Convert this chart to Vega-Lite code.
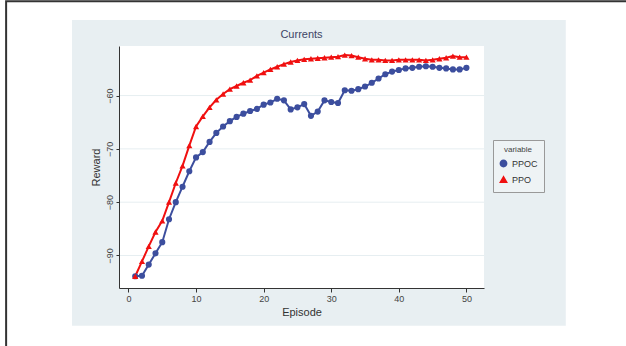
{
  "$schema": "https://vega.github.io/schema/vega-lite/v6.json",
  "width": 365,
  "height": 242,
  "autosize": {"type": "none"},
  "padding": {"left": 119, "top": 46, "right": 142, "bottom": 58},
  "background": "#ffffff",
  "config": {
    "view": {"stroke": null},
    "font": "Liberation Sans"
  },
  "title": {"text": "Currents", "fontSize": 11, "fontWeight": "normal", "color": "#3d4466", "offset": -39.5},
  "datasets": {
    "grid": [{"reward": -60}, {"reward": -70}, {"reward": -80}, {"reward": -90}],
    "rewards": [
      {"episode": 1, "variable": "PPOC", "reward": -93.9},
      {"episode": 2, "variable": "PPOC", "reward": -93.8},
      {"episode": 3, "variable": "PPOC", "reward": -91.7},
      {"episode": 4, "variable": "PPOC", "reward": -89.6},
      {"episode": 5, "variable": "PPOC", "reward": -87.5},
      {"episode": 6, "variable": "PPOC", "reward": -83.2},
      {"episode": 7, "variable": "PPOC", "reward": -80.0},
      {"episode": 8, "variable": "PPOC", "reward": -77.1},
      {"episode": 9, "variable": "PPOC", "reward": -74.2},
      {"episode": 10, "variable": "PPOC", "reward": -71.6},
      {"episode": 11, "variable": "PPOC", "reward": -70.6},
      {"episode": 12, "variable": "PPOC", "reward": -68.7},
      {"episode": 13, "variable": "PPOC", "reward": -67.0},
      {"episode": 14, "variable": "PPOC", "reward": -65.8},
      {"episode": 15, "variable": "PPOC", "reward": -64.8},
      {"episode": 16, "variable": "PPOC", "reward": -64.0},
      {"episode": 17, "variable": "PPOC", "reward": -63.4},
      {"episode": 18, "variable": "PPOC", "reward": -62.9},
      {"episode": 19, "variable": "PPOC", "reward": -62.5},
      {"episode": 20, "variable": "PPOC", "reward": -61.7},
      {"episode": 21, "variable": "PPOC", "reward": -61.3},
      {"episode": 22, "variable": "PPOC", "reward": -60.6},
      {"episode": 23, "variable": "PPOC", "reward": -60.9},
      {"episode": 24, "variable": "PPOC", "reward": -62.6},
      {"episode": 25, "variable": "PPOC", "reward": -62.2},
      {"episode": 26, "variable": "PPOC", "reward": -61.6},
      {"episode": 27, "variable": "PPOC", "reward": -63.8},
      {"episode": 28, "variable": "PPOC", "reward": -63.0},
      {"episode": 29, "variable": "PPOC", "reward": -60.9},
      {"episode": 30, "variable": "PPOC", "reward": -61.2},
      {"episode": 31, "variable": "PPOC", "reward": -61.4},
      {"episode": 32, "variable": "PPOC", "reward": -59.0},
      {"episode": 33, "variable": "PPOC", "reward": -59.1},
      {"episode": 34, "variable": "PPOC", "reward": -58.8},
      {"episode": 35, "variable": "PPOC", "reward": -58.3},
      {"episode": 36, "variable": "PPOC", "reward": -57.6},
      {"episode": 37, "variable": "PPOC", "reward": -56.8},
      {"episode": 38, "variable": "PPOC", "reward": -56.0},
      {"episode": 39, "variable": "PPOC", "reward": -55.5},
      {"episode": 40, "variable": "PPOC", "reward": -55.2},
      {"episode": 41, "variable": "PPOC", "reward": -54.9},
      {"episode": 42, "variable": "PPOC", "reward": -54.8},
      {"episode": 43, "variable": "PPOC", "reward": -54.6},
      {"episode": 44, "variable": "PPOC", "reward": -54.5},
      {"episode": 45, "variable": "PPOC", "reward": -54.6},
      {"episode": 46, "variable": "PPOC", "reward": -54.8},
      {"episode": 47, "variable": "PPOC", "reward": -54.9},
      {"episode": 48, "variable": "PPOC", "reward": -55.1},
      {"episode": 49, "variable": "PPOC", "reward": -55.1},
      {"episode": 50, "variable": "PPOC", "reward": -54.8},
      {"episode": 1, "variable": "PPO", "reward": -93.9},
      {"episode": 2, "variable": "PPO", "reward": -91.1},
      {"episode": 3, "variable": "PPO", "reward": -88.3},
      {"episode": 4, "variable": "PPO", "reward": -85.6},
      {"episode": 5, "variable": "PPO", "reward": -83.5},
      {"episode": 6, "variable": "PPO", "reward": -80.0},
      {"episode": 7, "variable": "PPO", "reward": -76.4},
      {"episode": 8, "variable": "PPO", "reward": -73.2},
      {"episode": 9, "variable": "PPO", "reward": -69.4},
      {"episode": 10, "variable": "PPO", "reward": -65.8},
      {"episode": 11, "variable": "PPO", "reward": -63.9},
      {"episode": 12, "variable": "PPO", "reward": -62.2},
      {"episode": 13, "variable": "PPO", "reward": -60.8},
      {"episode": 14, "variable": "PPO", "reward": -59.7},
      {"episode": 15, "variable": "PPO", "reward": -58.8},
      {"episode": 16, "variable": "PPO", "reward": -58.2},
      {"episode": 17, "variable": "PPO", "reward": -57.6},
      {"episode": 18, "variable": "PPO", "reward": -57.1},
      {"episode": 19, "variable": "PPO", "reward": -56.3},
      {"episode": 20, "variable": "PPO", "reward": -55.7},
      {"episode": 21, "variable": "PPO", "reward": -55.1},
      {"episode": 22, "variable": "PPO", "reward": -54.6},
      {"episode": 23, "variable": "PPO", "reward": -54.1},
      {"episode": 24, "variable": "PPO", "reward": -53.7},
      {"episode": 25, "variable": "PPO", "reward": -53.4},
      {"episode": 26, "variable": "PPO", "reward": -53.2},
      {"episode": 27, "variable": "PPO", "reward": -53.1},
      {"episode": 28, "variable": "PPO", "reward": -53.0},
      {"episode": 29, "variable": "PPO", "reward": -52.9},
      {"episode": 30, "variable": "PPO", "reward": -52.8},
      {"episode": 31, "variable": "PPO", "reward": -52.7},
      {"episode": 32, "variable": "PPO", "reward": -52.4},
      {"episode": 33, "variable": "PPO", "reward": -52.5},
      {"episode": 34, "variable": "PPO", "reward": -52.8},
      {"episode": 35, "variable": "PPO", "reward": -53.1},
      {"episode": 36, "variable": "PPO", "reward": -53.3},
      {"episode": 37, "variable": "PPO", "reward": -53.3},
      {"episode": 38, "variable": "PPO", "reward": -53.4},
      {"episode": 39, "variable": "PPO", "reward": -53.4},
      {"episode": 40, "variable": "PPO", "reward": -53.3},
      {"episode": 41, "variable": "PPO", "reward": -53.3},
      {"episode": 42, "variable": "PPO", "reward": -53.3},
      {"episode": 43, "variable": "PPO", "reward": -53.3},
      {"episode": 44, "variable": "PPO", "reward": -53.4},
      {"episode": 45, "variable": "PPO", "reward": -53.3},
      {"episode": 46, "variable": "PPO", "reward": -53.1},
      {"episode": 47, "variable": "PPO", "reward": -52.9},
      {"episode": 48, "variable": "PPO", "reward": -52.6},
      {"episode": 49, "variable": "PPO", "reward": -52.8},
      {"episode": 50, "variable": "PPO", "reward": -52.8}
    ]
  },
  "layer": [
    {
      "data": {"values": [{}]},
      "mark": {"type": "rect", "color": "#e8eff2", "clip": false},
      "encoding": {
        "x": {"datum": -8.35, "type": "quantitative"},
        "x2": {"datum": 64.7},
        "y": {"datum": -45.8, "type": "quantitative"},
        "y2": {"datum": -103.2}
      }
    },
    {
      "data": {"values": [{}]},
      "mark": {"type": "rect", "fill": null, "fillOpacity": 0, "stroke": "#333333", "strokeWidth": 2, "clip": false},
      "encoding": {
        "x": {"datum": -18.1, "type": "quantitative"},
        "x2": {"datum": 80},
        "y": {"datum": -42.3, "type": "quantitative"},
        "y2": {"datum": -120}
      }
    },
    {
      "data": {"values": [{}]},
      "mark": {"type": "rect", "color": "#ffffff", "clip": false},
      "encoding": {
        "x": {"datum": -1.4, "type": "quantitative"},
        "x2": {"datum": 52.6},
        "y": {"datum": -50.7, "type": "quantitative"},
        "y2": {"datum": -96.1}
      }
    },
    {
      "data": {"name": "grid"},
      "mark": {"type": "rule", "color": "#e6eef1", "strokeWidth": 1},
      "encoding": {
        "y": {"field": "reward", "type": "quantitative"}
      }
    },
    {
      "data": {"name": "rewards"},
      "mark": {"type": "line", "strokeWidth": 2},
      "encoding": {
        "x": {
          "field": "episode", "type": "quantitative",
          "scale": {"domain": [-1.4, 52.6], "nice": false, "zero": false},
          "axis": {
            "zindex": 1,
            "title": "Episode", "values": [0, 10, 20, 30, 40, 50], "grid": false,
            "domainColor": "#333333", "tickColor": "#333333", "tickSize": 4,
            "labelFontSize": 9, "labelColor": "#444444", "labelPadding": 2,
            "titleFontSize": 11, "titleFontWeight": "normal", "titleColor": "#333333", "titlePadding": 3
          }
        },
        "y": {
          "field": "reward", "type": "quantitative",
          "scale": {"domain": [-96.1, -50.7], "nice": false, "zero": false},
          "axis": {
            "zindex": 1,
            "title": "Reward", "values": [-60, -70, -80, -90], "grid": false,
            "domainColor": "#333333", "tickColor": "#333333", "tickSize": 3,
            "labelAngle": -90, "labelAlign": "center", "labelBaseline": "bottom",
            "labelFontSize": 9, "labelColor": "#444444", "labelPadding": 2,
            "titleFontSize": 11, "titleFontWeight": "normal", "titleColor": "#333333", "titlePadding": 4
          }
        },
        "color": {
          "field": "variable", "type": "nominal", "title": "variable",
          "scale": {"domain": ["PPOC", "PPO"], "range": ["#3c4e9e", "#f01010"]},
          "legend": {
            "orient": "none", "legendX": 374, "legendY": 94,
            "strokeColor": "#999999", "fillColor": "#eef3f5", "padding": 6,
            "titleFontSize": 8, "titleFontWeight": "normal", "titleColor": "#444444", "titleAnchor": "middle",
            "labelFontSize": 9, "labelColor": "#333333", "symbolSize": 40, "rowPadding": 3
          }
        },
        "detail": {"field": "variable"}
      }
    },
    {
      "data": {"name": "rewards"},
      "mark": {"type": "point", "filled": true, "opacity": 1},
      "encoding": {
        "x": {"field": "episode", "type": "quantitative"},
        "y": {"field": "reward", "type": "quantitative"},
        "color": {"field": "variable", "type": "nominal", "title": "variable"},
        "shape": {
          "field": "variable", "type": "nominal", "title": "variable",
          "scale": {"domain": ["PPOC", "PPO"], "range": ["circle", "triangle-up"]}
        },
        "size": {"value": 38}
      }
    }
  ]
}
